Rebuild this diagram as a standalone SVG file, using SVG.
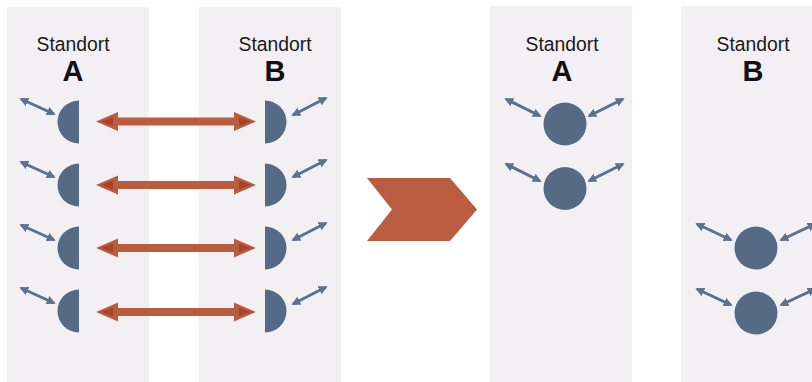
<svg xmlns="http://www.w3.org/2000/svg" xmlns:xlink="http://www.w3.org/1999/xlink" width="812" height="382" viewBox="0 0 812 382">
<style>
.panel{fill:#f2f0f3}
.t1{font-family:"Liberation Sans",Arial,sans-serif;font-size:20.5px;fill:#1a1a1a;text-anchor:middle}
.t2{font-family:"Liberation Sans",Arial,sans-serif;font-size:29px;font-weight:bold;fill:#111;text-anchor:middle}
.node{fill:#546a85}
.sa{stroke:#5a7190;stroke-width:3;fill:none;marker-start:url(#sh);marker-end:url(#sh)}
.red{fill:#b95c3f}
.redd{fill:#a43e28;opacity:0.8}
</style>
<defs>
<marker id="sh" viewBox="0 0 10 10" refX="8" refY="5" markerWidth="9" markerHeight="9" markerUnits="userSpaceOnUse" orient="auto-start-reverse">
<path d="M0,0 L10,5 L0,10 Z" fill="#5a7190"/>
</marker>
<g id="dbl">
<path class="red" d="M96,0 L118,-9.5 L118,-4 L234,-4 L234,-9.5 L256,0 L234,9.5 L234,4 L118,4 L118,9.5 Z"/>
<path class="redd" d="M101,0 L113,-4.5 L113,4.5 Z"/>
<path class="redd" d="M251,0 L239,-4.5 L239,4.5 Z"/>
</g>
<path id="halfA" d="M79,-21.5 A21.5,21.5 0 0 0 79,21.5 Z"/>
<path id="halfB" d="M265,-21.5 A21.5,21.5 0 0 1 265,21.5 Z"/>
</defs>
<g id="panels">
<rect class="panel" x="7" y="7" width="142" height="375"/>
<rect class="panel" x="199" y="7" width="142" height="375"/>
<rect class="panel" x="490" y="6" width="142" height="376"/>
<rect class="panel" x="681" y="6" width="131" height="376"/>
</g>
<g id="labels">
<text class="t1" x="73" y="51" textLength="73" lengthAdjust="spacingAndGlyphs">Standort</text>
<text class="t2" x="73" y="81">A</text>
<text class="t1" x="275" y="51" textLength="73" lengthAdjust="spacingAndGlyphs">Standort</text>
<text class="t2" x="275" y="81">B</text>
<text class="t1" x="562" y="51" textLength="73" lengthAdjust="spacingAndGlyphs">Standort</text>
<text class="t2" x="562" y="81">A</text>
<text class="t1" x="753" y="51" textLength="73" lengthAdjust="spacingAndGlyphs">Standort</text>
<text class="t2" x="753" y="81">B</text>
</g>
<g id="nodesA1">
<use xlink:href="#halfA" class="node" transform="translate(0,122)"/>
<use xlink:href="#halfA" class="node" transform="translate(0,185)"/>
<use xlink:href="#halfA" class="node" transform="translate(0,248)"/>
<use xlink:href="#halfA" class="node" transform="translate(0,311)"/>
</g>
<g id="nodesB1">
<use xlink:href="#halfB" class="node" transform="translate(0,122)"/>
<use xlink:href="#halfB" class="node" transform="translate(0,185)"/>
<use xlink:href="#halfB" class="node" transform="translate(0,248)"/>
<use xlink:href="#halfB" class="node" transform="translate(0,311)"/>
</g>
<g id="nodesA2">
<circle class="node" cx="565" cy="124" r="21.5"/>
<circle class="node" cx="565" cy="188.5" r="21.5"/>
</g>
<g id="nodesB2">
<circle class="node" cx="756" cy="248" r="21.5"/>
<circle class="node" cx="756" cy="313" r="21.5"/>
</g>
<g id="chevron">
<path class="red" d="M367,178 L450,178 L477,209.5 L450,241 L367,241 L392,209.5 Z"/>
</g>
<g id="connectors">
<use xlink:href="#dbl" transform="translate(0,121.5)"/>
<use xlink:href="#dbl" transform="translate(0,185)"/>
<use xlink:href="#dbl" transform="translate(0,248)"/>
<use xlink:href="#dbl" transform="translate(0,312)"/>
<path class="sa" d="M21,99 L54,114"/>
<path class="sa" d="M21,162 L54,177"/>
<path class="sa" d="M21,225 L54,240"/>
<path class="sa" d="M21,288 L54,303"/>
<path class="sa" d="M293,115 L326,98"/>
<path class="sa" d="M293,177 L326,160"/>
<path class="sa" d="M293,240 L326,223"/>
<path class="sa" d="M293,304 L326,287"/>
<path class="sa" d="M506,99 L540,116"/>
<path class="sa" d="M506,164 L540,181"/>
<path class="sa" d="M589,116 L623,99"/>
<path class="sa" d="M589,181 L623,164"/>
<path class="sa" d="M697,224 L731,240"/>
<path class="sa" d="M697,289 L731,305"/>
<path class="sa" d="M781,240 L815,224"/>
<path class="sa" d="M781,305 L815,289"/>
</g>
</svg>
